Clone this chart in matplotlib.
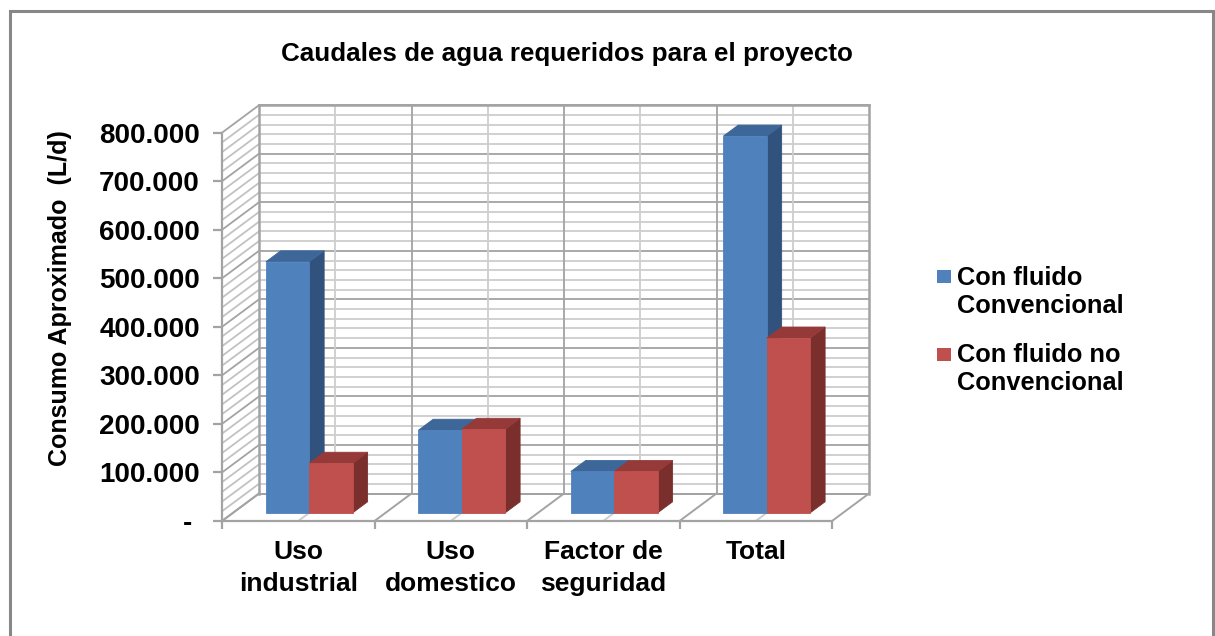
import matplotlib
matplotlib.use("Agg")
import matplotlib.pyplot as plt
from matplotlib.patches import Polygon, Rectangle

# ---- data ----
categories = ["Uso\nindustrial", "Uso\ndomestico", "Factor de\nseguridad", "Total"]
series_names = ["Con fluido\nConvencional", "Con fluido no\nConvencional"]
convencional = [517000, 170000, 85000, 776000]
no_convencional = [102000, 172000, 85000, 360000]
y_ticks = [0, 100000, 200000, 300000, 400000, 500000, 600000, 700000, 800000]
y_tick_labels = ["- ", "100.000", "200.000", "300.000", "400.000",
                 "500.000", "600.000", "700.000", "800.000"]
title = "Caudales de agua requeridos para el proyecto"
y_title = "Consumo Aproximado  (L/d)"

plt.rcParams['font.family'] = ['Liberation Sans', 'DejaVu Sans']

W, H = 1215, 636
fig = plt.figure(figsize=(W / 100, H / 100), dpi=100)
fig.patch.set_facecolor("white")


def fxy(x, y):
    """pixel position (from top-left) -> figure fraction"""
    return x / W, 1 - y / H


# outer chart border
fig.patches.append(Rectangle(fxy(10, 645), 1203 / W, 634 / H, transform=fig.transFigure,
                             fill=False, edgecolor="#878787", linewidth=2.2))

# front plane of the plot area
px0, px1 = 222, 832
py0, py1 = 521, 132.7
ax = fig.add_axes([px0 / W, 1 - py0 / H, (px1 - px0) / W, (py0 - py1) / H])
ymax = 800000
ncat = len(categories)
ax.set_xlim(0, ncat)
ax.set_ylim(0, ymax)
ax.patch.set_visible(False)

# depth offset of the 3-D box, in data units
DX = 37 / ((px1 - px0) / ncat)
DY = 27.5 / (py0 - py1) * ymax

minor_c = "#cdcdcd"
side_c_minor = "#c2c2c2"
major_c = "#a3a3a3"

# back wall: horizontal grid every 20.000, vertical lines every half category
for v in range(0, ymax + 1, 20000):
    major = v % 100000 == 0
    ax.plot([DX, ncat + DX], [v + DY, v + DY], color=major_c if major else minor_c,
            lw=1.3, zorder=1, clip_on=False, solid_capstyle="butt")
    # side wall diagonals
    ax.plot([0, DX], [v, v + DY], color=major_c if major else side_c_minor,
            lw=1.3, zorder=1, clip_on=False)
for k in range(0, 2 * ncat + 1):
    xv = k * 0.5
    edge = k in (0, 2 * ncat)
    ax.plot([xv + DX, xv + DX], [DY, ymax + DY], color=major_c if (k % 2 == 0) else minor_c,
            lw=1.8 if edge else 1.3, zorder=1, clip_on=False)
    # floor lines
    ax.plot([xv, xv + DX], [0, DY], color=major_c if (k % 2 == 0) else minor_c,
            lw=1.4, zorder=1, clip_on=False)
ax.plot([DX, ncat + DX], [ymax + DY, ymax + DY], color=major_c, lw=1.8, zorder=1, clip_on=False)
ax.plot([DX, ncat + DX], [DY, DY], color=major_c, lw=1.4, zorder=1, clip_on=False)

# axes lines / ticks
for side in ("top", "right"):
    ax.spines[side].set_visible(False)
ax.spines["left"].set_color(major_c)
ax.spines["left"].set_linewidth(1.6)
ax.spines["bottom"].set_color(major_c)
ax.spines["bottom"].set_linewidth(1.6)
ax.set_yticks(y_ticks)
ax.set_yticklabels(y_tick_labels, fontsize=20, fontweight="bold")
ax.tick_params(axis="y", direction="out", length=6.5, width=1.6, color=major_c, pad=9.4)
ax.set_xticks(range(ncat + 1))
ax.set_xticklabels([])
ax.tick_params(axis="x", which="major", direction="out", length=5.5, width=1.6, color=major_c)
ax.set_xticks([i + 0.5 for i in range(ncat)], minor=True)
ax.set_xticklabels(categories, minor=True, fontsize=19, fontweight="bold", linespacing=1.4)
ax.tick_params(axis="x", which="minor", length=0, pad=14)

# 3-D bars
bar_w = 0.285
f0, f1 = 0.3, 0.7
styles = [("#4F81BD", "#3D6699", "#30527D"), ("#C0504D", "#953A38", "#7B2F2D")]
z = 3
for i in range(ncat):
    for s, vals in enumerate([convencional, no_convencional]):
        v = vals[i]
        xl = i + 0.5 - bar_w + s * bar_w
        xr = xl + bar_w
        front_c, top_c, side_c = styles[s]
        fx, fy = f0 * DX, f0 * DY
        bx, by = f1 * DX, f1 * DY
        front = [(xl + fx, fy), (xr + fx, fy), (xr + fx, v + fy), (xl + fx, v + fy)]
        top = [(xl + fx, v + fy), (xr + fx, v + fy), (xr + bx, v + by), (xl + bx, v + by)]
        side = [(xr + fx, fy), (xr + bx, by), (xr + bx, v + by), (xr + fx, v + fy)]
        for poly, c in ((side, side_c), (top, top_c), (front, front_c)):
            ax.add_patch(Polygon(poly, closed=True, facecolor=c, edgecolor=c,
                                 linewidth=0.6, zorder=z, clip_on=False))
        z += 1

# titles
fig.text(*fxy(567, 54), title, ha="center", va="center", fontsize=18.7, fontweight="bold")
fig.text(*fxy(60, 298), y_title, ha="center", va="center", rotation=90,
         fontsize=18, fontweight="bold")

# legend
legend_rows = [(270.5, 313), (347.5, 390)]
for (top_y, base_y), name, (c, _, _) in zip(legend_rows, series_names, styles):
    fig.patches.append(Rectangle(fxy(937, top_y + 13), 14 / W, 13 / H,
                                 transform=fig.transFigure, facecolor=c, edgecolor="none"))
    fig.text(*fxy(957, base_y), name, ha="left", va="baseline", fontsize=18.3,
             fontweight="bold", linespacing=1.2)

fig.savefig("out.png", dpi=100, facecolor="white")
